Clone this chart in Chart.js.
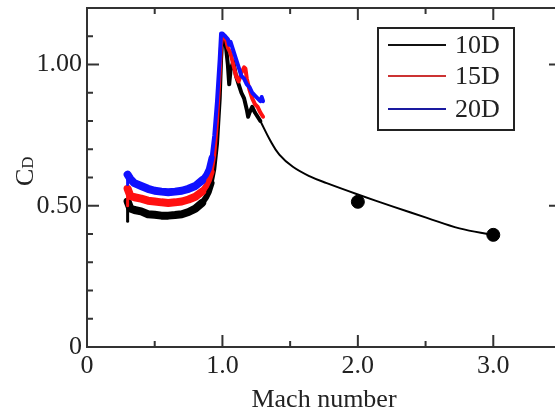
<!DOCTYPE html>
<html><head><meta charset="utf-8">
<script src="https://cdn.jsdelivr.net/npm/chart.js@4/dist/chart.umd.min.js"></script>
<style>
html,body{margin:0;padding:0;overflow:hidden;background:#fff}
#wrap{width:570px;height:416px;position:relative}
</style>
</head><body>
<div id="wrap"><canvas id="c" width="570" height="416"></canvas></div>
<script>
// ---- data ----
const seriesNames = ['10D', '15D', '20D'];
const seriesColors = ['#000000', '#ff1010', '#1010ff'];
const legendColors = ['#111111', '#cc3333', '#1a1aa0'];

const mach10 = [0.30,0.30,0.32,0.35,0.40,0.45,0.50,0.55,0.60,0.65,0.70,0.75,0.80,0.85,0.88,0.90,0.92,0.94,0.96,0.98,0.99,1.00,1.02,1.04,1.05,1.06,1.08,1.10,1.12,1.14,1.16,1.18,1.19,1.20,1.22,1.24,1.26,1.28];
const cd10   = [0.445,0.515,0.49,0.485,0.48,0.47,0.468,0.465,0.465,0.467,0.47,0.478,0.49,0.51,0.53,0.55,0.58,0.63,0.72,0.88,1.02,1.10,1.09,1.00,0.93,0.98,1.01,0.96,0.93,0.90,0.88,0.84,0.815,0.83,0.85,0.83,0.815,0.80];

const mach10Smooth = [1.28,1.35,1.42,1.52,1.65,1.77,2.00,2.26,2.51,2.75,3.00];
const cd10Smooth   = [0.80,0.734,0.681,0.638,0.603,0.58,0.54,0.497,0.457,0.42,0.397];

const mach15 = [0.30,0.30,0.32,0.35,0.40,0.45,0.50,0.55,0.60,0.65,0.70,0.75,0.80,0.85,0.88,0.90,0.92,0.94,0.96,0.98,0.99,1.00,1.02,1.04,1.06,1.08,1.10,1.12,1.14,1.16,1.17,1.18,1.20,1.22,1.24,1.26,1.28,1.30];
const cd15   = [0.50,0.56,0.535,0.53,0.525,0.518,0.515,0.512,0.51,0.512,0.515,0.522,0.532,0.55,0.57,0.59,0.62,0.68,0.80,0.97,1.07,1.10,1.10,1.06,1.04,1.00,0.96,0.94,0.97,0.99,0.985,0.95,0.91,0.88,0.86,0.85,0.83,0.815];

const mach20 = [0.30,0.30,0.32,0.35,0.40,0.45,0.50,0.55,0.60,0.65,0.70,0.75,0.80,0.85,0.88,0.90,0.92,0.94,0.96,0.98,0.99,1.00,1.02,1.04,1.05,1.06,1.08,1.10,1.12,1.14,1.16,1.18,1.20,1.22,1.24,1.26,1.28,1.29,1.30];
const cd20   = [0.575,0.61,0.595,0.58,0.57,0.56,0.553,0.55,0.548,0.55,0.553,0.56,0.57,0.59,0.61,0.63,0.67,0.75,0.87,1.02,1.11,1.11,1.10,1.09,1.07,1.08,1.05,1.02,0.99,0.96,0.95,0.93,0.92,0.90,0.89,0.88,0.87,0.885,0.87];

const machPoints = [2.0, 3.0];
const cdPoints   = [0.514, 0.397];

const xTickValues = [0, 1, 2, 3];
const xTickLabels = ['0', '1.0', '2.0', '3.0'];
const xMinorTicks = [0.5, 1.5, 2.5, 3.5];
const yTickValues = [0, 0.5, 1.0];
const yTickLabels = ['0', '0.50', '1.00'];
const yMinorTicks = [0.1, 0.2, 0.3, 0.4, 0.6, 0.7, 0.8, 0.9, 1.1];

const FONT = '"Liberation Serif", "Times New Roman", serif';
const INK = '#222222';

function pts(xs, ys) { return xs.map((x, i) => ({x: x, y: ys[i]})); }
function labelFor(v, vals, labels) {
  for (let i = 0; i < vals.length; i++) if (Math.abs(v - vals[i]) < 1e-6) return labels[i];
  return '';
}
// noisy subsonic band drawn thicker than the transonic part
const noisySegment = {borderWidth: c => {
  const x = c.p1.parsed.x;
  if (x <= 0.31) return 3;
  if (x <= 0.85) return 8;
  if (x <= 0.92) return 6;
  return 4;
}};

const framePlugin = {
  id: 'frame',
  afterDatasetsDraw(chart) {
    const ctx = chart.ctx, a = chart.chartArea;
    const xs = chart.scales.x, ys = chart.scales.y;
    ctx.save();
    ctx.strokeStyle = '#333';
    ctx.lineWidth = 2;
    ctx.strokeRect(a.left, a.top, a.right - a.left, a.bottom - a.top);
    const tick = (vals, len, horiz) => {
      vals.forEach(v => {
        ctx.beginPath();
        if (horiz) {
          const p = xs.getPixelForValue(v);
          ctx.moveTo(p, a.bottom); ctx.lineTo(p, a.bottom - len);
          ctx.moveTo(p, a.top); ctx.lineTo(p, a.top + len);
        } else {
          const p = ys.getPixelForValue(v);
          ctx.moveTo(a.left, p); ctx.lineTo(a.left + len, p);
          ctx.moveTo(a.right, p); ctx.lineTo(a.right - len, p);
        }
        ctx.stroke();
      });
    };
    tick(xTickValues, 12, true);
    tick(xMinorTicks, 6, true);
    tick(yTickValues, 12, false);
    tick(yMinorTicks, 6, false);

    // legend
    const lx = 378, ly = 28, lw = 136, lh = 102;
    ctx.fillStyle = '#fff';
    ctx.fillRect(lx, ly, lw, lh);
    ctx.strokeStyle = '#222';
    ctx.lineWidth = 2;
    ctx.strokeRect(lx, ly, lw, lh);
    const rows = [45, 76, 109];
    ctx.font = '26px ' + FONT;
    ctx.textBaseline = 'middle';
    ctx.textAlign = 'left';
    seriesNames.forEach((n, i) => {
      ctx.strokeStyle = legendColors[i];
      ctx.lineWidth = 2;
      ctx.beginPath();
      ctx.moveTo(388, rows[i]); ctx.lineTo(446, rows[i]);
      ctx.stroke();
      ctx.fillStyle = INK;
      ctx.fillText(n, 455, rows[i] + 1);
    });

    // axis titles
    ctx.fillStyle = INK;
    ctx.font = '26px ' + FONT;
    ctx.textAlign = 'center';
    ctx.textBaseline = 'middle';
    ctx.fillText('Mach number', 324, 400);

    ctx.save();
    ctx.translate(33, 186);
    ctx.rotate(-Math.PI / 2);
    ctx.textAlign = 'left';
    ctx.textBaseline = 'alphabetic';
    ctx.font = '26px ' + FONT;
    ctx.fillText('C', 0, 0);
    const w = ctx.measureText('C').width;
    ctx.font = '17px ' + FONT;
    ctx.fillText('D', w, 0);
    ctx.restore();
    ctx.restore();
  }
};

const lineCommon = {pointRadius: 0, tension: 0, borderWidth: 4, segment: noisySegment,
  borderCapStyle: 'round', borderJoinStyle: 'round'};

new Chart(document.getElementById('c'), {
  type: 'line',
  data: {
    datasets: [
      Object.assign({label: seriesNames[2], data: pts(mach20, cd20), borderColor: seriesColors[2], order: 0}, lineCommon),
      Object.assign({label: seriesNames[1], data: pts(mach15, cd15), borderColor: seriesColors[1], order: 1}, lineCommon),
      Object.assign({label: seriesNames[0], data: pts(mach10, cd10), borderColor: seriesColors[0], order: 2}, lineCommon),
      {label: seriesNames[0] + ' fit', data: pts(mach10Smooth, cd10Smooth), borderColor: '#000', borderWidth: 2, pointRadius: 0, tension: 0.4, order: 3},
      {label: 'points', type: 'scatter', data: pts(machPoints, cdPoints), backgroundColor: '#000', borderColor: '#000', pointRadius: 6.5, showLine: false, order: -1}
    ]
  },
  options: {
    responsive: false,
    animation: false,
    events: [],
    layout: {autoPadding: false, padding: {left: 0, right: 9, top: 8, bottom: 0}},
    plugins: {legend: {display: false}, tooltip: {enabled: false}},
    scales: {
      x: {
        type: 'linear', min: 0, max: 3.5,
        grid: {display: false, drawTicks: false},
        border: {display: false},
        ticks: {stepSize: 0.5, autoSkip: false, maxRotation: 0, padding: 4, color: INK,
          font: {family: FONT, size: 26},
          callback: v => labelFor(v, xTickValues, xTickLabels)},
        afterFit: s => { s.height = 69; s.paddingLeft = 0; s.paddingRight = 0; }
      },
      y: {
        type: 'linear', min: 0, max: 1.2,
        grid: {display: false, drawTicks: false},
        border: {display: false},
        ticks: {stepSize: 0.1, autoSkip: false, padding: 5, color: INK,
          font: {family: FONT, size: 26},
          callback: v => labelFor(v, yTickValues, yTickLabels)},
        afterFit: s => { s.width = 87; s.paddingTop = 0; s.paddingBottom = 0; }
      }
    }
  },
  plugins: [framePlugin]
});
</script>
</body></html>
